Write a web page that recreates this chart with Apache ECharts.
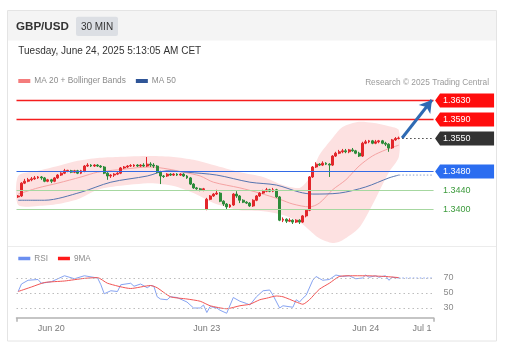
<!DOCTYPE html>
<html>
<head>
<meta charset="utf-8">
<script src="https://cdn.jsdelivr.net/npm/echarts@6/dist/echarts.min.js"></script>
<style>
  html, body { margin: 0; padding: 0; background: #fff; }
  #chart { width: 511px; height: 353px; }
</style>
</head>
<body>
<div id="chart"></div>
<script>
// 30 min candles, Jun 19 evening -> Jun 24 05:00 CET: [open, close, low, high]
const candles = [
  [1.3426,1.3428,1.3424,1.3430],[1.3428,1.3455,1.3426,1.3457],[1.3455,1.3459,1.3453,1.3464],[1.3459,1.3462,1.3457,1.3466],
  [1.3462,1.3464,1.3459,1.3468],[1.3464,1.3466,1.3462,1.3470],[1.3466,1.3468,1.3464,1.3470],[1.3468,1.3466,1.3462,1.3470],
  [1.3466,1.3459,1.3457,1.3468],[1.3459,1.3462,1.3457,1.3464],[1.3462,1.3459,1.3455,1.3464],[1.3459,1.3466,1.3457,1.3468],
  [1.3466,1.3472,1.3464,1.3474],[1.3472,1.3476,1.3470,1.3478],[1.3476,1.3481,1.3474,1.3485],[1.3481,1.3482,1.3478,1.3483],
  [1.3481,1.3478,1.3476,1.3483],[1.3478,1.3481,1.3476,1.3483],[1.3481,1.3476,1.3474,1.3483],[1.3476,1.3481,1.3474,1.3483],
  [1.3481,1.3491,1.3478,1.3493],[1.3491,1.3493,1.3489,1.3497],[1.3493,1.3491,1.3489,1.3495],[1.3491,1.3493,1.3489,1.3495],
  [1.3493,1.3491,1.3489,1.3495],[1.3491,1.3489,1.3487,1.3493],[1.3489,1.3476,1.3474,1.3491],[1.3476,1.3470,1.3462,1.3478],
  [1.3470,1.3472,1.3466,1.3474],[1.3472,1.3474,1.3468,1.3476],[1.3474,1.3476,1.3472,1.3478],[1.3476,1.3487,1.3474,1.3489],
  [1.3487,1.3489,1.3485,1.3491],[1.3489,1.3491,1.3487,1.3493],[1.3491,1.3492,1.3489,1.3495],[1.3491,1.3493,1.3489,1.3495],
  [1.3493,1.3491,1.3489,1.3495],[1.3491,1.3493,1.3489,1.3495],[1.3493,1.3491,1.3489,1.3497],[1.3491,1.3495,1.3489,1.3510],
  [1.3495,1.3493,1.3489,1.3499],[1.3493,1.3491,1.3487,1.3497],[1.3491,1.3478,1.3476,1.3493],[1.3478,1.3470,1.3453,1.3481],
  [1.3470,1.3469,1.3466,1.3472],[1.3470,1.3474,1.3468,1.3476],[1.3474,1.3472,1.3470,1.3476],[1.3472,1.3474,1.3470,1.3476],
  [1.3474,1.3472,1.3470,1.3476],[1.3472,1.3474,1.3470,1.3476],[1.3474,1.3470,1.3468,1.3476],[1.3470,1.3466,1.3464,1.3472],
  [1.3466,1.3453,1.3451,1.3468],[1.3453,1.3445,1.3443,1.3455],[1.3445,1.3443,1.3441,1.3447],[1.3443,1.3441,1.3438,1.3445],
  [1.3441,1.3443,1.3438,1.3445],
  // Jun 23
  [1.3400,1.3421,1.3398,1.3424],[1.3421,1.3428,1.3419,1.3430],[1.3428,1.3432,1.3426,1.3434],[1.3432,1.3434,1.3430,1.3441],
  [1.3434,1.3417,1.3415,1.3436],[1.3417,1.3411,1.3407,1.3419],[1.3411,1.3405,1.3400,1.3413],[1.3405,1.3409,1.3403,1.3411],
  [1.3409,1.3432,1.3407,1.3434],[1.3432,1.3428,1.3424,1.3438],[1.3428,1.3419,1.3413,1.3430],[1.3419,1.3415,1.3413,1.3421],
  [1.3415,1.3413,1.3411,1.3417],[1.3413,1.3407,1.3405,1.3415],[1.3407,1.3419,1.3405,1.3421],[1.3419,1.3428,1.3417,1.3430],
  [1.3428,1.3434,1.3426,1.3436],[1.3434,1.3438,1.3432,1.3441],[1.3438,1.3441,1.3436,1.3445],[1.3441,1.3438,1.3436,1.3443],
  [1.3438,1.3441,1.3436,1.3445],[1.3441,1.3426,1.3424,1.3443],[1.3426,1.3377,1.3375,1.3428],[1.3377,1.3379,1.3373,1.3383],
  [1.3379,1.3375,1.3371,1.3381],[1.3375,1.3377,1.3373,1.3381],[1.3377,1.3373,1.3369,1.3379],[1.3373,1.3377,1.3371,1.3379],
  [1.3377,1.3373,1.3369,1.3379],[1.3373,1.3386,1.3371,1.3388],[1.3386,1.3398,1.3383,1.3400],[1.3398,1.3468,1.3396,1.3470],
  [1.3468,1.3489,1.3466,1.3491],[1.3489,1.3495,1.3487,1.3499],[1.3495,1.3493,1.3491,1.3497],[1.3493,1.3497,1.3491,1.3501],
  [1.3497,1.3495,1.3493,1.3499],[1.3495,1.3493,1.3468,1.3497],[1.3493,1.3512,1.3491,1.3514],[1.3512,1.3518,1.3510,1.3521],
  [1.3518,1.3521,1.3516,1.3525],[1.3521,1.3523,1.3518,1.3527],[1.3523,1.3521,1.3518,1.3527],[1.3521,1.3525,1.3518,1.3527],
  [1.3525,1.3523,1.3521,1.3529],[1.3523,1.3518,1.3516,1.3525],[1.3518,1.3512,1.3510,1.3521],[1.3512,1.3539,1.3510,1.3542],
  // Jun 24
  [1.3539,1.3542,1.3537,1.3546],[1.3542,1.3544,1.3539,1.3546],[1.3544,1.3539,1.3537,1.3546],[1.3539,1.3542,1.3537,1.3546],
  [1.3542,1.3544,1.3539,1.3546],[1.3544,1.3539,1.3537,1.3546],[1.3539,1.3537,1.3533,1.3542],[1.3537,1.3529,1.3521,1.3539],
  [1.3529,1.3546,1.3527,1.3548],[1.3546,1.3549,1.3544,1.3552],[1.3549,1.3550,1.3547,1.3553]
];

const slotCount = 126; // candle slots incl. the empty projection area
const tickIndex = [10, 57, 105, 122];
const tickLabels = ["Jun 20", "Jun 23", "Jun 24", "Jul 1"];

// [slot, price]
const ma20 = [[0,1.3432],[6,1.3445],[12,1.3455],[19,1.3468],[24,1.3478],[30,1.3483],[40,1.3489],[45,1.3485],
  [50,1.3478],[55,1.3470],[59,1.3457],[67,1.3445],[73,1.3434],[79,1.3421],[83,1.3411],[88,1.3405],[91,1.3413],
  [95,1.3441],[99,1.3462],[103,1.3491],[107,1.3512],[111,1.3525],[115,1.3535]];
const ma50 = [[0,1.3419],[8,1.3419],[19,1.3436],[28,1.3457],[39,1.3470],[45,1.3481],[51,1.3478],[60,1.3472],
  [70,1.3457],[78,1.3451],[85,1.3436],[89,1.3432],[97,1.3434],[105,1.3447],[112,1.3466],[115,1.3472]];
const ma50Projection = [[115,1.3472],[125,1.3472]];
const bandSlots = [0, 6, 12, 18, 24, 30, 40, 47, 53, 59, 67, 74, 80, 85, 88, 91, 95, 98, 103, 107, 112, 115];
const bandUpper = [1.3470,1.3481,1.3491,1.3502,1.3508,1.3510,1.3512,1.3510,1.3504,1.3493,1.3478,1.3468,
  1.3451,1.3445,1.3466,1.3514,1.3550,1.3573,1.3584,1.3582,1.3575,1.3567];
const bandLower = [1.3409,1.3407,1.3411,1.3421,1.3441,1.3449,1.3455,1.3449,1.3434,1.3413,1.3398,1.3396,
  1.3388,1.3373,1.3356,1.3339,1.3329,1.3335,1.3361,1.3409,1.3478,1.3510];

// RSI panel, [slot, value]
const rsi = [[0,52],[1,62],[3,67],[6,68],[7,63],[10,65],[14,73],[17,69],[20,73],[24,70],[25,61],[26,49],[28,53],
  [30,52],[31,61],[34,63],[35,59],[37,62],[39,57],[40,60],[41,59],[42,45],[43,42],[45,41],[46,45],[48,44],[51,38],
  [53,30],[55,30],[56,34],[57,24],[58,32],[60,30],[61,27],[63,23],[65,44],[67,39],[69,36],[70,34],[72,45],[74,53],
  [76,54],[77,47],[79,30],[80,33],[83,31],[84,41],[85,38],[86,43],[87,47],[89,67],[90,72],[92,67],[94,68],[96,74],
  [98,72],[100,73],[102,69],[104,70],[105,74],[106,71],[108,73],[109,71],[111,73],[112,67],[113,71],[115,70]];
const rsiProjection = [[115,70],[125,70]];
const rsiMa9 = [[0,52],[4,58],[8,64],[14,66],[20,69.5],[24,70.5],[27,63],[34,56],[40,60],[42,57],[46,45],[51,42],
  [55,39],[58,33],[63,29],[67,33],[70,35],[73,41],[75,43],[78,46],[80,45],[84,38],[86,35],[88,41],[91,55],[94,63],
  [97,72],[100,73],[105,73],[111,72],[115,70.5]];
const rsiLevels = [30, 50, 70];

// key levels
const levelPrices = [1.3630, 1.3590, 1.3550, 1.3480, 1.3440, 1.3400];
const levelKinds = ["resistance", "resistance", "last", "pivot", "support", "support"];
const lastSlot = 116;
const targetPrice = 1.3630;

const FONT = "Liberation Sans, Arial, sans-serif";
const levelStyle = {
  resistance: { line: "#f51d1d", width: 1.6, tag: "#ff0d0d" },
  last: { line: "#444", width: 1, tag: "#333333", dash: [1.5, 2.5] },
  pivot: { line: "#336ae6", width: 1.2, tag: "#2b6df0" },
  support: { line: "#a6d7a0", width: 1, text: "#3d9b3d" },
};

const chart = echarts.init(document.getElementById("chart"), null, { renderer: "canvas" });
const slots = Array.from({ length: slotCount }, (_, i) => String(i));

const options = {
  animation: false,
  textStyle: { fontFamily: FONT },
  graphic: [
    { type: "rect", z: 0, shape: { x: 7.5, y: 10.5, width: 489, height: 330.5 }, style: { fill: "#fff", stroke: "#e4e4e4", lineWidth: 1 } },
    { type: "rect", z: 0, shape: { x: 8, y: 11, width: 488, height: 29.5 }, style: { fill: "#f4f4f4" } },
    { type: "rect", z: 0, shape: { x: 76, y: 16.7, width: 42, height: 19.3, r: 2 }, style: { fill: "#dcdfe4" } },
    { type: "line", z: 0, shape: { x1: 8, y1: 246.5, x2: 496, y2: 246.5 }, style: { stroke: "#ececec", lineWidth: 1 } },
    { type: "text", z: 5, style: { x: 16, y: 27, text: "GBP/USD", font: "bold 11.6px " + FONT, fill: "#333", verticalAlign: "middle" } },
    { type: "text", z: 5, style: { x: 97, y: 27, text: "30 MIN", font: "10px " + FONT, fill: "#333", align: "center", verticalAlign: "middle" } },
    { type: "text", z: 5, style: { x: 18.3, y: 51.5, text: "Tuesday, June 24, 2025 5:13:05 AM CET", font: "10px " + FONT, fill: "#333", verticalAlign: "middle" } },
    { type: "text", z: 5, style: { x: 489, y: 83, text: "Research \u00a9 2025 Trading Central", font: "8.3px " + FONT, fill: "#9a9a9a", align: "right", verticalAlign: "middle" } },
  ],
  legend: [
    {
      data: ["MA 20 + Bollinger Bands", "MA 50"],
      left: 18.3, top: 77, padding: 0, itemWidth: 12, itemHeight: 4, itemGap: 10, icon: "rect",
      selectedMode: false, textStyle: { color: "#8c8c8c", fontSize: 8.3, padding: [0, 0, 0, -1] },
    },
    {
      data: ["RSI", "9MA"],
      left: 18.3, top: 254.5, padding: 0, itemWidth: 12, itemHeight: 3.5, itemGap: 10, icon: "rect",
      selectedMode: false, textStyle: { color: "#8c8c8c", fontSize: 8.2, padding: [0, 0, 0, -1] },
    },
  ],
  grid: [
    { left: 16.5, width: 417.06, top: 90.5, height: 154.4 },
    { left: 16.5, width: 417.06, top: 265.25, height: 52.5 },
  ],
  xAxis: [
    { type: "category", gridIndex: 0, data: slots, show: false },
    {
      type: "category", gridIndex: 1, data: slots,
      axisLine: { lineStyle: { color: "#b3b3b3", width: 1.5 } },
      axisTick: { show: true, interval: (i) => i === 0, length: 4, lineStyle: { color: "#b3b3b3", width: 1.5 } },
      axisLabel: {
        interval: 0, margin: 6, fontSize: 9, color: "#7a7a7a",
        formatter: (value, index) => {
          const j = tickIndex.indexOf(index);
          return j >= 0 ? tickLabels[j] : "";
        },
      },
    },
  ],
  yAxis: [
    { type: "value", gridIndex: 0, show: false, min: 1.3325, max: 1.365, scale: true },
    { type: "value", gridIndex: 1, show: false, min: 17, max: 87 },
  ],
  series: [
    {
      // Bollinger band fill
      name: "MA 20 + Bollinger Bands",
      type: "custom",
      xAxisIndex: 0, yAxisIndex: 0, z: 1, silent: true,
      color: "#f47c7c",
      data: bandSlots.map((s, i) => [s, bandUpper[i], bandLower[i]]),
      encode: { x: 0, y: [1, 2] },
      renderItem: (params, api) => {
        if (params.dataIndex !== 0) return null;
        const top = bandSlots.map((s, i) => api.coord([s, bandUpper[i]]));
        const bottom = bandSlots.map((s, i) => api.coord([s, bandLower[i]])).reverse();
        return {
          type: "polygon",
          shape: { points: top.concat(bottom), smooth: 0.25 },
          style: { fill: "#fde1e1" },
        };
      },
    },
    {
      name: "MA 20 + Bollinger Bands",
      type: "line", xAxisIndex: 0, yAxisIndex: 0, z: 2,
      data: ma20, showSymbol: false, smooth: 0.3, color: "#f47c7c",
      lineStyle: { color: "#f5a3a3", width: 1 },
    },
    {
      name: "MA 50",
      type: "line", xAxisIndex: 0, yAxisIndex: 0, z: 2,
      data: ma50, showSymbol: false, smooth: 0.3, color: "#2f5597",
      lineStyle: { color: "#5675b0", width: 1 },
    },
    {
      type: "line", xAxisIndex: 0, yAxisIndex: 0, z: 2,
      data: ma50Projection, showSymbol: false,
      lineStyle: { color: "#8aa0cc", width: 1, type: [1.5, 2] },
    },
    {
      type: "candlestick", xAxisIndex: 0, yAxisIndex: 0, z: 3,
      data: candles, barWidth: 2.4,
      itemStyle: { color: "#e2262b", color0: "#2e8b3a", borderColor: "#e2262b", borderColor0: "#2e8b3a", borderWidth: 1 },
      markLine: {
        silent: true, z: 6,
        symbol: ["none", "arrow"], symbolSize: [11, 12],
        label: { show: false },
        lineStyle: { color: "#2e6ab3", width: 3, type: "solid" },
        data: [[{ coord: [lastSlot, levelPrices[2]] }, { coord: [slotCount - 1, targetPrice] }]],
      },
    },
    {
      // key levels with their price tags
      type: "custom", xAxisIndex: 0, yAxisIndex: 0, z: 5, silent: true, clip: false,
      data: levelPrices.map((p) => [0, p]),
      encode: { x: 0, y: 1 },
      renderItem: (params, api) => {
        const cs = params.coordSys;
        const right = cs.x + cs.width;
        const price = api.value(1);
        const y = Math.round(api.coord([0, price])[1]) + 0.5;
        const kind = levelKinds[params.dataIndex];
        const st = levelStyle[kind];
        const x1 = kind === "last" ? api.coord([lastSlot, price])[0] : cs.x;
        const text = price.toFixed(4);
        const children = [{
          type: "line",
          shape: { x1: x1, y1: y, x2: right, y2: y },
          style: { stroke: st.line, lineWidth: st.width, lineDash: st.dash || null },
        }];
        if (st.tag) {
          children.push({
            type: "polygon",
            shape: { points: [[right + 1.5, y], [right + 6.5, y - 7], [right + 60.5, y - 7], [right + 60.5, y + 7], [right + 6.5, y + 7]] },
            style: { fill: st.tag },
          });
          children.push({
            type: "text",
            style: { x: right + 9.5, y: y, text: text, font: "9px " + FONT, fill: "#fff", verticalAlign: "middle" },
          });
        } else {
          children.push({
            type: "text",
            style: { x: right + 9.5, y: y, text: text, font: "9px " + FONT, fill: st.text, verticalAlign: "middle" },
          });
        }
        return { type: "group", children: children };
      },
    },
    {
      name: "RSI",
      type: "line", xAxisIndex: 1, yAxisIndex: 1,
      data: rsi, showSymbol: false, color: "#6b8ff0",
      lineStyle: { color: "#86a3f2", width: 1 },
      markLine: {
        silent: true, symbol: "none",
        lineStyle: { type: [1.5, 3], color: "#bdbdbd", width: 1 },
        label: { position: "end", distance: 10, color: "#8a8a8a", fontSize: 9, formatter: "{c}" },
        data: rsiLevels.map((v) => ({ yAxis: v })),
      },
    },
    {
      type: "line", xAxisIndex: 1, yAxisIndex: 1,
      data: rsiProjection, showSymbol: false,
      lineStyle: { color: "#86a3f2", width: 1, type: [1.5, 2] },
    },
    {
      name: "9MA",
      type: "line", xAxisIndex: 1, yAxisIndex: 1,
      data: rsiMa9, showSymbol: false, smooth: 0.2, color: "#ff1a1a",
      lineStyle: { color: "#f25555", width: 1 },
    },
  ],
};

chart.setOption(options);
</script>
</body>
</html>
